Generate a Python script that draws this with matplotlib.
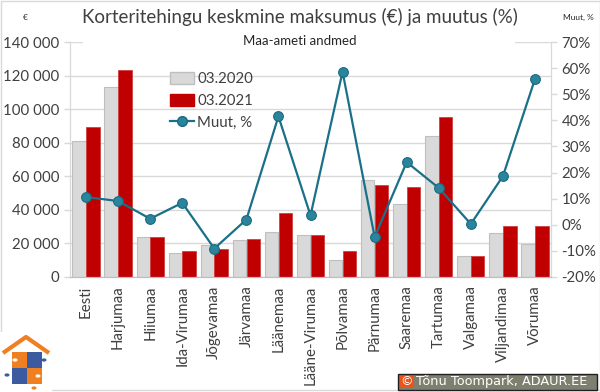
import matplotlib
matplotlib.use("Agg")
import matplotlib.pyplot as plt
import numpy as np
from matplotlib.patches import Rectangle, Circle
from matplotlib.lines import Line2D
from matplotlib.ticker import FuncFormatter, MultipleLocator

plt.rcParams['font.family'] = ['Lato', 'DejaVu Sans']

categories = ["Eesti", "Harjumaa", "Hiiumaa", "Ida-Virumaa", "Jõgevamaa", "Järvamaa",
              "Läänemaa", "Lääne-Virumaa", "Põlvamaa", "Pärnumaa", "Saaremaa",
              "Tartumaa", "Valgamaa", "Viljandimaa", "Võrumaa"]
price_2020 = [81000, 113000, 23700, 14500, 19000, 22000, 26800, 25000, 10000, 58000,
              43500, 83800, 12400, 26000, 19700]
price_2021 = [89200, 123100, 23700, 15300, 16500, 22500, 37900, 25000, 15300, 55000,
              53600, 95100, 12300, 30500, 30200]
change_pct = [10.6, 9.1, 2.3, 8.4, -9.1, 2.0, 41.5, 3.6, 58.6, -4.7, 24.0, 14.1, 0.3, 18.6, 55.8]

W, H = 600, 392
fig = plt.figure(figsize=(W / 100, H / 100), dpi=100)

def fx(px):
    return px / W

def fy(py):
    return 1 - py / H

left, right, top, bottom = 70, 551, 42, 277
ax = fig.add_axes([fx(left), fy(bottom), fx(right - left), (bottom - top) / H])
ax2 = ax.twinx()

txt = '#404040'
gridc = '#d9d9d9'
x = np.arange(len(categories))
bw = 0.42
ax.bar(x - 0.215, price_2020, bw, color='#d9d9d9', edgecolor='#bfbfbf', linewidth=0.8,
       label='03.2020', zorder=2)
ax.bar(x + 0.215, price_2021, bw, color='#c00000', edgecolor='#d04040', linewidth=0.6,
       label='03.2021', zorder=2)

ax.set_ylim(0, 140000)
ax.set_xlim(-0.5, len(categories) - 0.5)
ax.yaxis.set_major_locator(MultipleLocator(20000))
ax.yaxis.set_major_formatter(FuncFormatter(lambda v, p: f"{int(v):,}".replace(",", " ")))
ax.grid(axis='y', color=gridc, linewidth=1, zorder=0)
ax.set_axisbelow(True)
ax.set_xticks(x)
ax.set_xticklabels(categories, rotation=90, fontsize=10.8, color=txt)
ax.tick_params(axis='x', length=0, pad=6)
ax.tick_params(axis='y', labelsize=10.8, colors=gridc, labelcolor=txt, length=4, width=1)

ax2.plot(x, np.array(change_pct) / 100, color='#1b7089', linewidth=1.6, marker='o',
         markersize=7, markerfacecolor='#2a849c', markeredgecolor='#1b6a80',
         markeredgewidth=0.8, label='Muut, %', zorder=3)
ax2.set_ylim(-0.2, 0.7)
ax2.yaxis.set_major_locator(MultipleLocator(0.1))
ax2.yaxis.set_major_formatter(FuncFormatter(lambda v, p: f"{round(v * 100):d}%"))
ax2.tick_params(axis='y', labelsize=10.8, colors=gridc, labelcolor=txt, length=4, width=1)

for a in (ax, ax2):
    a.spines['top'].set_visible(False)
    a.spines['left'].set_color(gridc)
    a.spines['right'].set_color(gridc)
    a.spines['bottom'].set_color('#bfbfbf')

# white box behind subtitle covering top gridline
fig.patches.append(Rectangle((fx(83), fy(52)), fx(515 - 83), (52 - 32) / H,
                             transform=fig.transFigure, facecolor='white', edgecolor='none',
                             zorder=5))
fig.text(0.5, fy(17), "Korteritehingu keskmine maksumus (€) ja muutus (%)",
         ha='center', va='center', fontsize=13.5, color=txt, zorder=6)
fig.text(0.5, fy(41), "Maa-ameti andmed", ha='center', va='center', fontsize=9.5,
         color='#262626', zorder=6)
fig.text(fx(25), fy(17), "€", ha='center', va='center', fontsize=6, color='#262626')
fig.text(fx(578), fy(17), "Muut, %", ha='center', va='center', fontsize=6, color='#262626')

handles = [Rectangle((0, 0), 1, 1, facecolor='#d9d9d9', edgecolor='#bfbfbf'),
           Rectangle((0, 0), 1, 1, facecolor='#c00000', edgecolor='#c00000'),
           Line2D([], [], color='#1b7089', linewidth=1.6, marker='o', markersize=7,
                  markerfacecolor='#2a849c', markeredgecolor='#1b6a80')]
leg = fig.legend(handles, ['03.2020', '03.2021', 'Muut, %'], loc='upper left',
                 bbox_to_anchor=(fx(170), fy(72)), frameon=False, fontsize=10.8,
                 handlelength=1.6, handleheight=0.9, handletextpad=0.2,
                 labelspacing=0.5, borderaxespad=0, borderpad=0)
for t in leg.get_texts():
    t.set_color(txt)

# chart border
fig.patches.append(Rectangle((fx(0.5), fy(389.5)), fx(599), 389 / H, transform=fig.transFigure,
                             facecolor='none', edgecolor='#d9d9d9', linewidth=1, zorder=1))

# logo
fig.patches.append(Rectangle((fx(0), fy(392)), fx(52), (392 - 332) / H, transform=fig.transFigure,
                             facecolor='white', edgecolor='none', zorder=7))
orange = '#f07f22'
blue = '#3b5aa0'
roof = Line2D([fx(3), fx(26), fx(49)], [fy(353), fy(337), fy(353)], transform=fig.transFigure,
              color=orange, linewidth=3, zorder=8, solid_capstyle='butt')
fig.lines.append(roof)
for (px, py, c) in [(12, 352, orange), (27, 352, blue), (12, 368, blue), (27, 368, orange)]:
    fig.patches.append(Rectangle((fx(px), fy(py + 16)), fx(15), 16 / H, transform=fig.transFigure,
                                 facecolor=c, edgecolor='none', zorder=8))
for (cx, cy, c) in [(44, 360, blue), (7, 375, blue), (34, 388, orange),
                    (15, 360, 'white'), (38, 376, 'white')]:
    fig.patches.append(Circle((fx(cx), fy(cy)), 2.5 / W, transform=fig.transFigure,
                              facecolor=c, edgecolor='none', zorder=9))

# copyright box
fig.patches.append(Rectangle((fx(398), fy(390)), fx(199), 16 / H, transform=fig.transFigure,
                             facecolor='#7f7f6f', edgecolor='#202020', linewidth=1, zorder=7))
fig.patches.append(Rectangle((fx(400), fy(388)), fx(14), 12 / H, transform=fig.transFigure,
                             facecolor='#e8541c', edgecolor='none', zorder=8))
fig.text(fx(407), fy(382), "©", ha='center', va='center', fontsize=9, color='white', zorder=9,
         family=['DejaVu Sans'])
fig.text(fx(416), fy(382), "Tõnu Toompark, ADAUR.EE", ha='left', va='center', fontsize=9.3,
         color='white', zorder=9, family=['DejaVu Sans'])

fig.savefig("out.png", dpi=100)
